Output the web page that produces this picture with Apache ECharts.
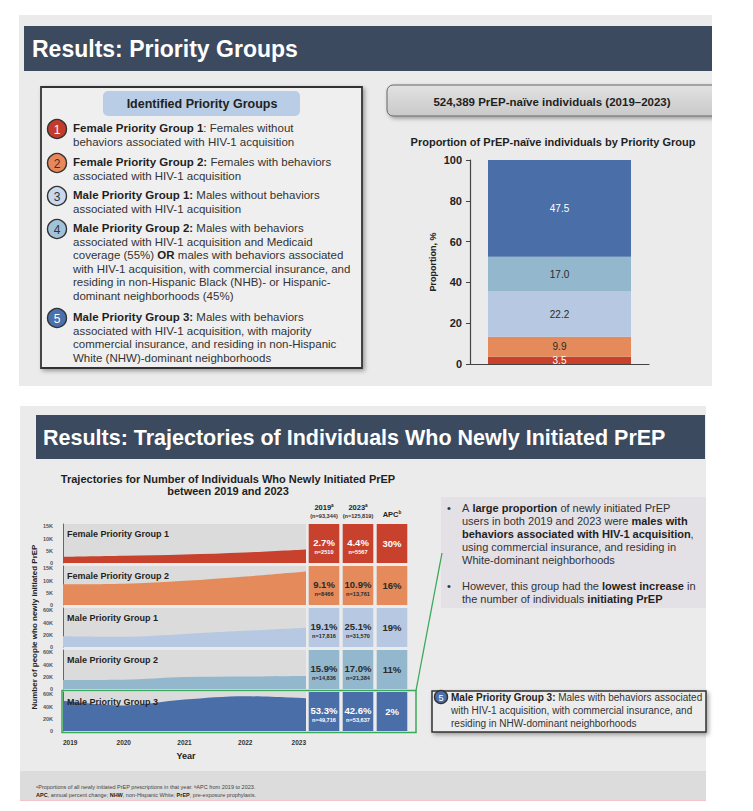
<!DOCTYPE html>
<html><head><meta charset="utf-8">
<script src="https://cdn.jsdelivr.net/npm/echarts@6/dist/echarts.min.js"></script>
<style>html,body{margin:0;padding:0;background:#fff}#c{width:753px;height:811px}</style>
</head><body><div id="c"></div>
<script>
// ---------- DATA ----------
const groupNames = ['Female Priority Group 1','Female Priority Group 2','Male Priority Group 1','Male Priority Group 2','Male Priority Group 3'];
const proportionValues = [3.5, 9.9, 22.2, 17.0, 47.5];
const proportionTicks = [0, 20, 40, 60, 80, 100];
const totalNaive = 524389;
const years = ['2019','2020','2021','2022','2023'];
const trajFemale1 = [2510, 2950, 3500, 4350, 5567];
const trajFemale2 = [8466, 8700, 9900, 11700, 13761];
const trajMale1 = [17816, 16800, 21500, 26500, 31570];
const trajMale2 = [14836, 15200, 19500, 20500, 21384];
const trajMale3 = [49716, 42000, 51500, 57000, 53637];
const smallTickLabels = ['0','5K','10K','15K'];
const largeTickLabels = ['0','20K','40K','60K'];
const share2019 = [2.7, 9.1, 19.1, 15.9, 53.3];
const n2019 = [2510, 8466, 17816, 14836, 49716];
const share2023 = [4.4, 10.9, 25.1, 17.0, 42.6];
const n2023 = [5567, 13761, 31570, 21384, 53637];
const apc = [30, 16, 19, 11, 2];
const total2019 = 93344, total2023 = 125819;
const tableCols = ['2019','2023','APC'];

// ---------- STYLE ----------
const FF = '"Liberation Sans", Arial, Helvetica, sans-serif';
const groupColors = ['#c8412d','#e48a5b','#b7c9e2','#93b7cc','#4a6ea8'];
const lightText = ['#ffffff','#2a2a2a','#2a2a2a','#2a2a2a','#ffffff'];
const circleColors = ['#c23b2b','#e8885a','#c9d8ec','#a1c3d9','#4b71ad'];
const trajectories = [trajFemale1, trajFemale2, trajMale1, trajMale2, trajMale3];
const ROW0 = 522.5, ROWH = 42, PL = 63, PR = 306;

function fmtN(n){ return n >= 10000 ? n.toLocaleString('en-US') : String(n); }
function tickFmt(list, step){ return v => { const i = Math.round(v/step); return (v % step === 0 && list[i] !== undefined) ? list[i] : ''; }; }

// ---------- GRIDS / AXES / SERIES ----------
const grids = [{left:470, right:104, top:160, bottom:447, outerBoundsMode:'none'}];
const xAxes = [{gridIndex:0, type:'category', data:['All'], axisLine:{show:true, lineStyle:{color:'#444', width:1.2}}, axisTick:{show:false}, axisLabel:{show:false}}];
const yAxes = [{gridIndex:0, type:'value', min:0, max:100, interval:20,
  axisLine:{show:true, lineStyle:{color:'#444', width:1.2}},
  axisTick:{show:true, length:4, lineStyle:{color:'#444'}},
  axisLabel:{fontFamily:FF, fontSize:11, fontWeight:'bold', color:'#222', margin:8, formatter: v => proportionTicks.includes(v) ? String(v) : ''},
  splitLine:{show:false}}];
const series = [];
groupNames.forEach((g,i) => {
  series.push({type:'bar', name:g, stack:'p', xAxisIndex:0, yAxisIndex:0, barWidth:143,
    data:[proportionValues[i]], itemStyle:{color:groupColors[i]},
    label:{show:true, position:'inside', formatter: p => p.value.toFixed(1), fontFamily:FF, fontSize:10, color: lightText[i]}});
});
for (let k = 0; k < 5; k++) {
  const top = ROW0 + k*ROWH + 1.5;
  const small = k < 2;
  grids.push({left:PL, right:753-PR, top:top, height:ROWH-3, show:true, backgroundColor:'#dbdbdb', borderWidth:0, outerBoundsMode:'none'});
  xAxes.push({gridIndex:k+1, type:'category', data:years, boundaryGap:false,
    axisLine:{show:false}, axisTick:{show:false}, splitLine:{show:false},
    axisLabel:{show:k===4, fontFamily:FF, fontSize:6.5, fontWeight:'bold', color:'#333', margin:8, alignMinLabel:'left', alignMaxLabel:'right'}});
  yAxes.push({gridIndex:k+1, type:'value', min:0, max: small ? 16000 : 64000, interval: small ? 5000 : 20000,
    axisLine:{show:true, lineStyle:{color:'#666', width:1}}, axisTick:{show:false}, splitLine:{show:false},
    axisLabel:{showMaxLabel:false, fontFamily:FF, fontSize:5.5, fontWeight:'bold', color:'#555', margin:10,
      formatter: small ? tickFmt(smallTickLabels, 5000) : tickFmt(largeTickLabels, 20000)}});
  series.push({type:'line', name:groupNames[k], xAxisIndex:k+1, yAxisIndex:k+1, data:trajectories[k],
    smooth:0.35, symbol:'none', lineStyle:{width:0}, areaStyle:{color:groupColors[k], opacity:1}});
}
// table grid
grids.push({left:307, width:102, top:ROW0, height:5*ROWH, outerBoundsMode:'none'});
xAxes.push({gridIndex:6, type:'category', data:tableCols, show:false});
yAxes.push({gridIndex:6, type:'category', data:groupNames, inverse:true, show:false});
const tableData = [];
groupNames.forEach((g,r) => { tableData.push([0,r],[1,r],[2,r]); });
series.push({type:'custom', xAxisIndex:6, yAxisIndex:6, data:tableData, z:5,
  renderItem: function(params, api){
    const col = api.value(0), row = api.value(1);
    const c = api.coord([col,row]); const s = api.size([1,1]);
    const w = s[0]-3.4, h = s[1]-3;
    let main, sub = null;
    if (col === 0) { main = share2019[row].toFixed(1)+'%'; sub = 'n='+fmtN(n2019[row]); }
    else if (col === 1) { main = share2023[row].toFixed(1)+'%'; sub = 'n='+fmtN(n2023[row]); }
    else { main = apc[row]+'%'; }
    const fc = lightText[row];
    const ch = [{type:'rect', shape:{x:c[0]-w/2, y:c[1]-h/2, width:w, height:h}, style:{fill:groupColors[row]}},
      {type:'text', x:c[0], y: sub ? c[1]-1 : c[1], style:{text:main, fontFamily:FF, fontSize:9.5, fontWeight:'bold', fill:fc, align:'center', verticalAlign:'middle'}}];
    if (sub) ch.push({type:'text', x:c[0], y:c[1]+8, style:{text:sub, fontFamily:FF, fontSize:5.6, fontWeight:'bold', fill:fc, align:'center', verticalAlign:'middle'}});
    return {type:'group', children:ch};
  }});

// ---------- GRAPHICS ----------
const G = [];
function R(x,y,w,h,style,z,extra){ return Object.assign({type:'rect', shape:{x:x,y:y,width:w,height:h,r:(extra&&extra.r)||0}, style:style, z:(z===undefined?-10:z), silent:true}); }
function T(x,y,str,size,o){
  o = o || {};
  const rich = {b:{fontFamily:FF, fontSize:size, fontWeight:'bold', fill:o.bc||'#1f1f1f'},
                s:{fontFamily:FF, fontSize:Math.max(4, size*0.62), fontWeight:o.w||'normal', fill:o.c||'#333', verticalAlign:'top'},
                m:{fontFamily:FF, fontSize:size, fontWeight:o.w||'normal', fill:o.c||'#333'}};
  return {type:'text', x:x, y:y, z:(o.z===undefined?10:o.z), silent:true, rotation:o.rot||0,
    style:{text:str, fontFamily:FF, fontSize:size, fontWeight:o.w||'normal', fill:o.c||'#333', align:o.a||'left', verticalAlign:'middle', rich:rich}};
}
function C(cx,cy,r,fill,label,tc,size){
  G.push({type:'circle', shape:{cx:cx,cy:cy,r:r}, style:{fill:fill, stroke:'#333', lineWidth:1.4}, z:8, silent:true});
  G.push(T(cx,cy+0.5,label,size,{c:tc,a:'center',z:9}));
}
const shadow = {shadowBlur:4, shadowOffsetX:2, shadowOffsetY:2, shadowColor:'rgba(0,0,0,0.35)'};

// top slide
G.push(R(19,15,693,371,{fill:'#ebebeb'},-20));
G.push(R(24,26,688,45,{fill:'#3b4a5f'},-10));
G.push(T(32,49,'Results: Priority Groups',23,{c:'#ffffff',w:'bold'}));
// left box
G.push(R(41,87,321,281,Object.assign({fill:'#efefef', stroke:'#333', lineWidth:1.8},shadow),-5));
G.push(Object.assign(R(103,91,197,25,{fill:'#b9cde6'},-4),{shape:{x:103,y:91,width:197,height:25,r:5}}));
G.push(T(202,104,'Identified Priority Groups',12.5,{c:'#222',w:'bold',a:'center'}));
const items = [
  {y:128, lines:['{b|Female Priority Group 1}: Females without','behaviors associated with HIV-1 acquisition']},
  {y:162, lines:['{b|Female Priority Group 2:} Females with behaviors','associated with HIV-1 acquisition']},
  {y:195, lines:['{b|Male Priority Group 1:} Males without behaviors','associated with HIV-1 acquisition']},
  {y:228, lines:['{b|Male Priority Group 2:} Males with behaviors','associated with HIV-1 acquisition and Medicaid','coverage (55%) {b|OR} males with behaviors associated','with HIV-1 acquisition, with commercial insurance, and','residing in non-Hispanic Black (NHB)- or Hispanic-','dominant neighborhoods (45%)']},
  {y:317, lines:['{b|Male Priority Group 3:} Males with behaviors','associated with HIV-1 acquisition, with majority','commercial insurance, and residing in non-Hispanic','White (NHW)-dominant neighborhoods']}
];
items.forEach((it,i) => {
  C(57, it.y+1, 9.5, circleColors[i], String(i+1), (i===0||i===4)?'#fff':'#333', 12);
  it.lines.forEach((l,j) => G.push(T(73, it.y + j*13.5, l, 11.5, {c:'#333'})));
});
// right summary box (runs off the slide edge)
G.push(Object.assign(R(387,85,335,31,Object.assign({fill:{type:'linear',x:0,y:0,x2:0,y2:1,colorStops:[{offset:0,color:'#e2e2e2'},{offset:1,color:'#c9c9c9'}]}, stroke:'#666', lineWidth:1},shadow),-5),{shape:{x:387,y:85,width:335,height:31,r:6}}));
G.push(R(712,78,41,46,{fill:'#ffffff'},-4));
G.push(T(552,102,fmtN(totalNaive)+' PrEP-naïve individuals (2019–2023)',11.5,{c:'#1f1f1f',w:'bold',a:'center'}));
G.push(T(553,142,'Proportion of PrEP-naïve individuals by Priority Group',11,{c:'#1f1f1f',w:'bold',a:'center'}));
G.push(T(433,262,'Proportion, %',9,{c:'#222',w:'bold',a:'center',rot:Math.PI/2}));

// bottom slide
G.push(R(20,406,686,394,{fill:'#ebebeb'},-20));
G.push(R(20,771,686,29,{fill:'#dcdcdc'},-15));
G.push(R(20,800,686,1,{fill:'#f2c4cc'},-15));
G.push(R(36,415,669,44,{fill:'#3b4a5f'},-10));
G.push(T(43,438,'Results: Trajectories of Individuals Who Newly Initiated PrEP',21.5,{c:'#ffffff',w:'bold'}));
G.push(T(228,479,'Trajectories for Number of Individuals Who Newly Initiated PrEP',11,{c:'#1f1f1f',w:'bold',a:'center'}));
G.push(T(228,490.5,'between 2019 and 2023',11,{c:'#1f1f1f',w:'bold',a:'center'}));
// table column headers
G.push(T(324,507,'{m|'+tableCols[0]+'}{s|a}',7.5,{c:'#222',w:'bold',a:'center'}));
G.push(T(324,516,'(n='+fmtN(total2019)+')',5.6,{c:'#333',w:'bold',a:'center'}));
G.push(T(358,507,'{m|'+tableCols[1]+'}{s|a}',7.5,{c:'#222',w:'bold',a:'center'}));
G.push(T(358,516,'(n='+fmtN(total2023)+')',5.6,{c:'#333',w:'bold',a:'center'}));
G.push(T(392,514,'{m|'+tableCols[2]+'}{s|b}',7.5,{c:'#222',w:'bold',a:'center'}));
// panel labels
groupNames.forEach((g,k) => G.push(T(67, ROW0 + k*ROWH + 11, g, 9, {c:'#1f1f1f', w:'bold'})));
G.push(T(34,627,'Number of people who newly initiated PrEP',8,{c:'#222',w:'bold',a:'center',rot:Math.PI/2}));
G.push(T(186,756,'Year',9,{c:'#222',w:'bold',a:'center'}));
// green highlight
G.push({type:'rect', shape:{x:62, y:ROW0+4*ROWH, width:354, height:ROWH}, style:{fill:'none', stroke:'#3aa95a', lineWidth:1.5}, z:12, silent:true});
G.push({type:'line', shape:{x1:416, y1:ROW0+4*ROWH, x2:442, y2:553}, style:{stroke:'#3aa95a', lineWidth:1.3}, z:12, silent:true});
// bullet box
G.push(R(441,497,265,111,{fill:'#e3e0e6'},-5));
const bl = [
  [508,'A {b|large proportion} of newly initiated PrEP',true],
  [521,'users in both 2019 and 2023 were {b|males with}',false],
  [534,'{b|behaviors associated with HIV-1 acquisition},',false],
  [547,'using commercial insurance, and residing in',false],
  [560,'White-dominant neighborhoods',false],
  [586,'However, this group had the {b|lowest increase} in',true],
  [599,'the number of individuals {b|initiating PrEP}',false]
];
bl.forEach(b => { if (b[2]) G.push(T(447,b[0],'•',11,{c:'#333'})); G.push(T(462,b[0],b[1],11,{c:'#333'})); });
// box 5
G.push(R(432,691,274,41,Object.assign({fill:'#ececec', stroke:'#333', lineWidth:1.5},shadow),-5));
C(441,697,6.5,circleColors[4],'5','#fff',9);
G.push(T(451,697,'{b|Male Priority Group 3:} Males with behaviors associated',10,{c:'#333'}));
G.push(T(451,710,'with HIV-1 acquisition, with commercial insurance, and',10,{c:'#333'}));
G.push(T(451,723,'residing in NHW-dominant neighborhoods',10,{c:'#333'}));
// footnotes
G.push(T(36,787,'{s|a}Proportions of all newly initiated PrEP prescriptions in that year. {s|b}APC from 2019 to 2023.',5.5,{c:'#444'}));
G.push(T(36,795,'{b|APC}, annual percent change; {b|NHW}, non-Hispanic White; {b|PrEP}, pre-exposure prophylaxis.',5.5,{c:'#444',bc:'#222'}));

const chart = echarts.init(document.getElementById('c'), null, {renderer:'svg', width:753, height:811});
chart.setOption({
  animation:false,
  backgroundColor:'#ffffff',
  grid:grids, xAxis:xAxes, yAxis:yAxes, series:series,
  graphic:{elements:G}
});
</script></body></html>
